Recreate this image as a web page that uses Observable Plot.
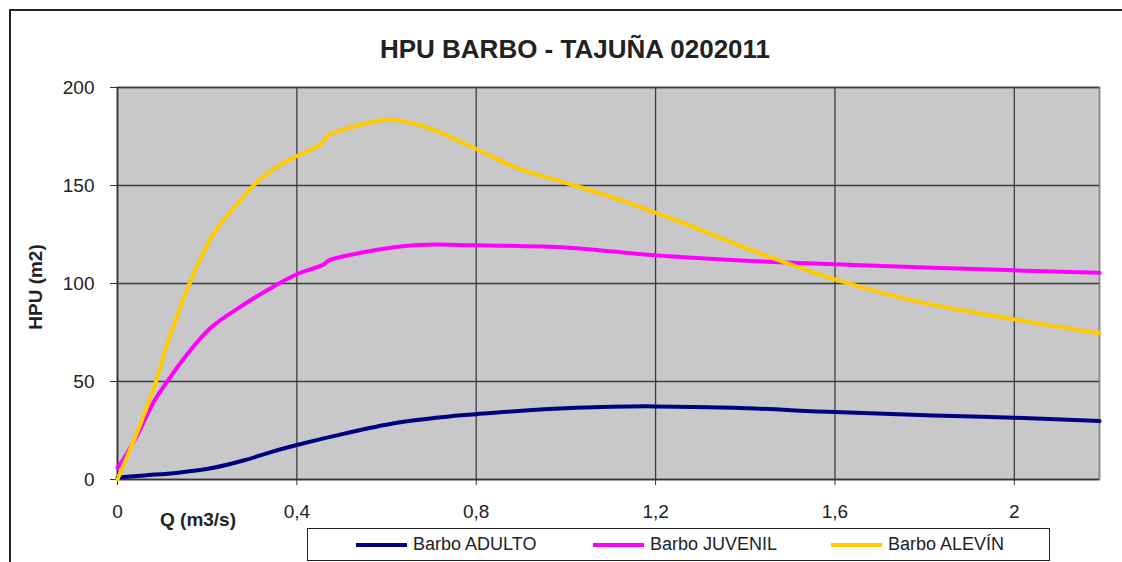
<!DOCTYPE html>
<html><head><meta charset="utf-8">
<script src="https://cdn.jsdelivr.net/npm/d3@7"></script>
<script src="https://cdn.jsdelivr.net/npm/@observablehq/plot@0.6"></script>
<style>
body{margin:0;background:#fff;font-family:"Liberation Sans",Arial,sans-serif;}
#wrap{position:relative;width:1122px;height:562px;overflow:hidden;background:#fff;}
#frame{position:absolute;left:9px;top:9px;width:1200px;height:700px;border:2.5px solid #222;box-sizing:border-box;}
#chart{position:absolute;left:0;top:0;}
#title{position:absolute;left:0;width:1150px;top:34px;text-align:center;font-weight:bold;font-size:26px;color:#222;}
#xlabel{position:absolute;left:160px;top:509px;font-weight:bold;font-size:19px;color:#222;}
#ylabel{position:absolute;left:36px;top:287px;transform:translate(-50%,-50%) rotate(-90deg);font-weight:bold;font-size:19px;color:#222;white-space:nowrap;}
#legend{position:absolute;left:307px;top:528px;width:743px;height:33px;border:1.5px solid #222;box-sizing:border-box;background:#fff;}
.item{position:absolute;top:0;height:31px;display:flex;align-items:center;font-size:18px;color:#222;white-space:nowrap;}
.swatch{display:inline-block;width:51px;height:4px;margin-right:6px;}
</style></head><body>
<div id="wrap">
<div id="frame"></div>
<div id="title">HPU BARBO - TAJUÑA 0202011</div>
<div id="chart"></div>
<div id="xlabel">Q (m3/s)</div>
<div id="ylabel">HPU (m2)</div>
<div id="legend"></div>
</div>
<script>
const seriesNames = ["Barbo ADULTO", "Barbo JUVENIL", "Barbo ALEVÍN"];
const seriesColors = ["#000080", "#ff00ff", "#ffcc00"];

const qAdulto = [0, 0.06, 0.134, 0.208, 0.283, 0.342, 0.4, 0.506, 0.617, 0.728, 0.8, 0.951, 1.1, 1.2, 1.374, 1.6, 1.82, 2.0, 2.19];
const hAdulto = [1, 2.1, 3.5, 5.7, 9.8, 14, 17.6, 23.4, 28.7, 31.9, 33.3, 35.8, 37.1, 37.3, 36.6, 34.4, 32.7, 31.5, 29.8];

const qJuvenil = [0, 0.015, 0.045, 0.082, 0.112, 0.149, 0.208, 0.283, 0.357, 0.4, 0.461, 0.469, 0.543, 0.669, 0.8, 1.004, 1.198, 1.412, 1.6, 2.0, 2.19];
const hJuvenil = [6, 11, 23, 40, 50.3, 62, 77.4, 89.4, 99.6, 104.7, 109.8, 111.5, 115.7, 119.6, 119.5, 118.3, 114.4, 111.5, 109.8, 106.7, 105.5];

const qAlevin = [0, 0.045, 0.086, 0.108, 0.134, 0.159, 0.19, 0.22, 0.246, 0.28, 0.3125, 0.36, 0.4, 0.457, 0.469, 0.52, 0.56, 0.605, 0.68, 0.8, 0.89, 1.0, 1.115, 1.2, 1.26, 1.41, 1.5, 1.6, 1.78, 2.0, 2.19];
const hAlevin = [0, 24.7, 50, 67, 84, 99, 115, 127.5, 135, 144, 152, 160, 165, 171.5, 175.5, 179.5, 182, 183.6, 180.4, 168.6, 159, 151.4, 143, 136.1, 131, 117.4, 109.8, 102.1, 91, 81.7, 74.6];

const xTicks = [0, 0.4, 0.8, 1.2, 1.6, 2];
const yTicks = [0, 50, 100, 150, 200];

const seriesQ = [qAdulto, qJuvenil, qAlevin];
const seriesH = [hAdulto, hJuvenil, hAlevin];
const data = seriesNames.flatMap((name, k) => seriesQ[k].map((q, i) => ({serie: name, q, h: seriesH[k][i]})));

const plot = Plot.plot({
  width: 1122, height: 562,
  marginLeft: 117, marginRight: 23, marginTop: 87, marginBottom: 83,
  style: {fontFamily: "'Liberation Sans', Arial, sans-serif", fontSize: "19px", color: "#222", background: "transparent", overflow: "visible"},
  x: {domain: [0, 2.19], label: null},
  y: {domain: [0, 200], label: null},
  color: {domain: seriesNames, range: seriesColors},
  marks: [
    Plot.frame({fill: "#c8c8ca", stroke: "#8e8e8e", strokeWidth: 2}),
    Plot.gridX(xTicks.filter(d => d > 0), {stroke: "#3c3c3c", strokeOpacity: 1, strokeWidth: 1.3}),
    Plot.gridY(yTicks.filter(d => d > 0), {stroke: "#3c3c3c", strokeOpacity: 1, strokeWidth: 1.3}),
    Plot.ruleX([0], {stroke: "#333", strokeWidth: 1.5}),
    Plot.ruleY([0], {stroke: "#333", strokeWidth: 1.5}),
    Plot.axisX(xTicks, {tickSize: 6, tickPadding: 19, tickFormat: d => String(d).replace(".", ","), fontSize: 19, stroke: "#333", fill: "#222"}),
    Plot.axisY(yTicks, {tickSize: 7, tickPadding: 16, fontSize: 19, stroke: "#333", fill: "#222"}),
    Plot.line(data, {x: "q", y: "h", z: "serie", stroke: "serie", strokeWidth: 4, curve: "catmull-rom", strokeLinejoin: "round", strokeLinecap: "round"})
  ]
});
document.getElementById("chart").appendChild(plot);

const legend = document.getElementById("legend");
const legendX = [48, 285, 523];
seriesNames.forEach((name, k) => {
  const it = document.createElement("div");
  it.className = "item";
  it.style.left = legendX[k] + "px";
  const sw = document.createElement("span");
  sw.className = "swatch";
  sw.style.background = seriesColors[k];
  it.appendChild(sw);
  it.appendChild(document.createTextNode(name));
  legend.appendChild(it);
});
</script>
</body></html>
